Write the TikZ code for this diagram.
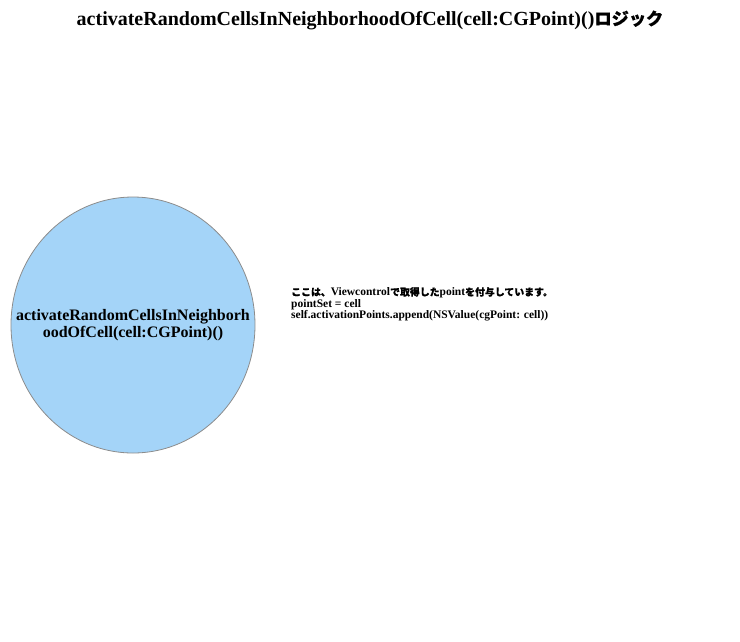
\documentclass[tikz,border=0pt]{standalone}
\usepackage{fontspec}
\setmainfont{Liberation Serif}
\newfontfamily\jp{Noto Sans CJK JP}[FakeBold=0.6,Scale=0.86]
\usetikzlibrary{shapes.geometric,positioning}
\definecolor{cellblue}{HTML}{A4D4F8}
\definecolor{rimgray}{HTML}{8C8C8C}
\tikzset{
  titletext/.style={font=\bfseries\fontsize{20}{22}\selectfont},
  funcball/.style={ellipse,draw=rimgray,fill=cellblue,line width=0.8pt,
    minimum width=244pt,minimum height=256pt,inner sep=0pt},
  functext/.style={align=center,inner sep=0pt,
    font=\bfseries\fontsize{16}{16.5}\selectfont},
  notetext/.style={align=left,inner sep=0pt,font=\bfseries\fontsize{11.5}{11.5}\selectfont}
}
\begin{document}
\begin{tikzpicture}[x=1pt,y=1pt]
\useasboundingbox (0,0) rectangle (740,-641);
\node[titletext] (title) at (370,-20) {activateRandomCellsInNeighborhoodOfCell(cell:CGPoint)(){\jp ロジック}};
\node[funcball] (func) at (133,-325) {};
\node[functext] (funclabel) at (func.center) {activateRandomCellsInNeighborh\\oodOfCell(cell:CGPoint)()};
\node[notetext,anchor=north west] (note) at (291,-287) {{\jp ここは、}Viewcontrol{\jp で取得した}point{\jp を付与しています。}\\pointSet = cell\\self.activationPoints.append(NSValue(cgPoint: cell))};
\end{tikzpicture}
\end{document}
